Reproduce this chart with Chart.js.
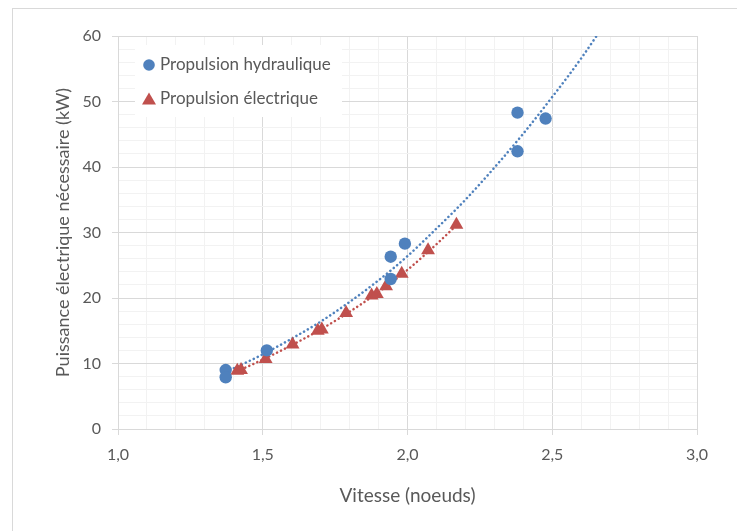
<!DOCTYPE html>
<html>
<head>
<meta charset="utf-8">
<script src="https://cdn.jsdelivr.net/npm/chart.js@4.4.1/dist/chart.umd.min.js"></script>
<style>
  html, body { margin: 0; padding: 0; background: #fff; overflow: hidden; }
  .cadre { position: absolute; left: 12px; top: 8px; width: 800px; height: 600px; border: 1px solid #d9d9d9; }
  .zone { position: absolute; left: 0; top: 0; width: 737px; height: 531px; }
</style>
</head>
<body>
<div class="cadre"></div>
<div class="zone"><canvas id="vitesseChart" width="737" height="531"></canvas></div>
<script>
// points mesures
const hydroX = [1.372, 1.372, 1.514, 1.942, 1.942, 1.991, 2.380, 2.380, 2.477];
const hydroY = [9.0, 7.9, 12.0, 22.9, 26.3, 28.3, 48.3, 42.4, 47.4];
const elecX = [1.412, 1.425, 1.510, 1.603, 1.690, 1.704, 1.788, 1.876, 1.894, 1.926, 1.980, 2.071, 2.169];
const elecY = [8.9, 9.0, 10.7, 12.9, 15.0, 15.2, 17.7, 20.4, 20.6, 21.8, 23.7, 27.3, 31.2];

// courbes de tendance
const hydroTrendX = [1.372, 1.4, 1.5, 1.6, 1.7, 1.8, 1.9, 2.0, 2.1, 2.2, 2.3, 2.4, 2.5, 2.6, 2.7];
const hydroTrendY = [8.8, 9.3, 11.4, 13.8, 16.4, 19.4, 22.7, 26.4, 30.6, 35.0, 39.9, 45.1, 50.7, 56.6, 63.1];
const elecTrendX = [1.412, 1.5, 1.6, 1.7, 1.8, 1.9, 2.0, 2.1, 2.169];
const elecTrendY = [8.8, 10.6, 12.8, 15.2, 17.9, 20.9, 24.3, 28.2, 31.1];

const xTicks = [1.0, 1.5, 2.0, 2.5, 3.0];
const yTicks = [0, 10, 20, 30, 40, 50, 60];

const bleu = '#4f81bd';
const rouge = '#c0504d';
const gris = '#595959';
const police = 'Lato, "Open Sans", sans-serif';

function pts(xs, ys) {
  return xs.map((x, i) => ({ x: x, y: ys[i] }));
}

function majeurX(v) {
  return xTicks.some(t => Math.abs(t - v) < 1e-6);
}
function majeurY(v) {
  return yTicks.some(t => Math.abs(t - v) < 1e-6);
}

const legendeInterne = {
  id: 'legendeInterne',
  afterDraw: function (chart) {
    const { ctx, chartArea } = chart;
    const x0 = chartArea.left + 17;
    const y0 = chartArea.top + 9;
    ctx.save();
    ctx.fillStyle = '#fff';
    ctx.fillRect(x0, y0, 207, 72);

    ctx.font = '17px ' + police;
    ctx.textBaseline = 'middle';
    ctx.textAlign = 'left';

    // cercle bleu
    ctx.fillStyle = bleu;
    ctx.beginPath();
    ctx.arc(x0 + 14, y0 + 20, 5.8, 0, Math.PI * 2);
    ctx.fill();
    ctx.fillStyle = gris;
    ctx.fillText(chart.data.datasets[0].label, x0 + 25, y0 + 20);

    // triangle rouge
    ctx.fillStyle = rouge;
    ctx.beginPath();
    ctx.moveTo(x0 + 14, y0 + 47.5);
    ctx.lineTo(x0 + 21, y0 + 59.5);
    ctx.lineTo(x0 + 7, y0 + 59.5);
    ctx.closePath();
    ctx.fill();
    ctx.fillStyle = gris;
    ctx.fillText(chart.data.datasets[1].label, x0 + 25, y0 + 54);

    ctx.restore();
  }
};

const ctx = document.getElementById('vitesseChart').getContext('2d');

new Chart(ctx, {
  type: 'scatter',
  data: {
    datasets: [
      {
        label: 'Propulsion hydraulique',
        data: pts(hydroX, hydroY),
        pointStyle: 'circle',
        pointRadius: 6.2,
        backgroundColor: bleu,
        borderColor: bleu,
        borderWidth: 0
      },
      {
        label: 'Propulsion électrique',
        data: pts(elecX, elecY),
        pointStyle: 'triangle',
        pointRadius: 8,
        backgroundColor: rouge,
        borderColor: rouge,
        borderWidth: 0
      },
      {
        label: 'tendance hydraulique',
        data: pts(hydroTrendX, hydroTrendY),
        showLine: true,
        pointRadius: 0,
        borderColor: bleu,
        borderWidth: 2.5,
        borderDash: [0.1, 4.3],
        borderCapStyle: 'round',
        cubicInterpolationMode: 'monotone',
        fill: false
      },
      {
        label: 'tendance électrique',
        data: pts(elecTrendX, elecTrendY),
        showLine: true,
        pointRadius: 0,
        borderColor: rouge,
        borderWidth: 2.5,
        borderDash: [0.1, 4.3],
        borderCapStyle: 'round',
        cubicInterpolationMode: 'monotone',
        fill: false
      }
    ]
  },
  options: {
    responsive: false,
    animation: false,
    layout: {
      padding: { left: 0, top: 36, right: 40, bottom: 0 }
    },
    plugins: {
      legend: { display: false },
      tooltip: { enabled: false }
    },
    scales: {
      x: {
        type: 'linear',
        min: 1,
        max: 3,
        afterFit: function (scale) { scale.height = 102; },
        ticks: {
          stepSize: 0.1,
          autoSkip: false,
          maxRotation: 0,
          padding: 10,
          color: gris,
          font: { family: police, size: 16 },
          callback: function (v) {
            return majeurX(v) ? v.toFixed(1).replace('.', ',') : '';
          }
        },
        grid: {
          color: c => majeurX(c.tick.value) ? '#d9d9d9' : '#f2f2f2',
          tickColor: c => majeurX(c.tick.value) ? '#d9d9d9' : 'rgba(0,0,0,0)',
          tickLength: 6
        },
        border: { color: '#d9d9d9' },
        title: {
          display: true,
          text: 'Vitesse (noeuds)',
          color: gris,
          font: { family: police, size: 19 },
          padding: { top: 0, bottom: 24 }
        }
      },
      y: {
        min: 0,
        max: 60,
        afterFit: function (scale) { scale.width = 118; },
        ticks: {
          stepSize: 2,
          autoSkip: false,
          padding: 11,
          color: gris,
          font: { family: police, size: 16 },
          callback: function (v) {
            return majeurY(v) ? String(v) : '';
          }
        },
        grid: {
          color: c => majeurY(c.tick.value) ? '#d9d9d9' : '#f2f2f2',
          tickColor: c => majeurY(c.tick.value) ? '#d9d9d9' : 'rgba(0,0,0,0)',
          tickLength: 6
        },
        border: { color: '#d9d9d9' },
        title: {
          display: true,
          text: 'Puissance électrique nécessaire (kW)',
          color: gris,
          font: { family: police, size: 18 },
          padding: { top: 52, bottom: 0 }
        }
      }
    }
  },
  plugins: [legendeInterne]
});
</script>
</body>
</html>
